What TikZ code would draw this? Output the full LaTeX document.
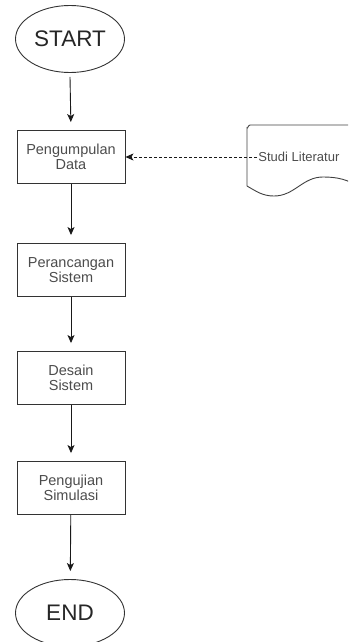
\documentclass[tikz,border=0pt]{standalone}
\usepackage{fontspec}
\setmainfont{Liberation Sans}
\usetikzlibrary{arrows.meta,shapes.geometric}

\begin{document}
\begin{tikzpicture}[x=1pt,y=-1pt, line width=0.9pt,
  term/.style={draw=black!80, ellipse, inner sep=0pt, minimum width=109pt, minimum height=67pt, text=black!85, font=\fontsize{22.5}{24}\selectfont},
  proc/.style={draw=black!80, rectangle, minimum width=108pt, minimum height=53pt, align=center, text=black!70, font=\fontsize{14.5}{15.5}\selectfont},
  flow/.style={-{Stealth[length=8pt,width=7pt,inset=2pt]}, black!90, shorten >=8pt}]
  \clip (0,0) rectangle (348,642);
  \node[term] (s) at (70,39) {START};
  \node[proc] (1) at (71,157) {Pengumpulan\\Data};
  \node[proc] (2) at (71,270) {Perancangan\\Sistem};
  \node[proc] (3) at (71,378) {Desain\\Sistem};
  \node[proc] (4) at (71,488) {Pengujian\\Simulasi};
  \node[term] (e) at (70,613) {END};
  % dokumen studi literatur
  \draw[black!75] (247,186) -- (247,128) to[out=-90,in=180] (250,125) -- (360,125);
  \draw[black!75] (247,186) to[out=-30,in=180] (274,196) to[out=0,in=180] (323,177) to[out=0,in=150] (360,187);
  \node[anchor=west, inner sep=1pt, text=black!70, font=\fontsize{13}{15}\selectfont] (lit) at (257,157) {Studi Literatur};
  \draw[flow] (s.south) ++(0,4) -- (1.north);
  \draw[flow] (1)--(2);
  \draw[flow] (2)--(3);
  \draw[flow] (3)--(4);
  \draw[flow] (4)--(e);
  \draw[-{Stealth[length=8pt,width=7pt,inset=2pt]}, black!90, line width=0.8pt, dash pattern=on 3pt off 2pt] (lit.west)--(1.east);
\end{tikzpicture}
\end{document}
